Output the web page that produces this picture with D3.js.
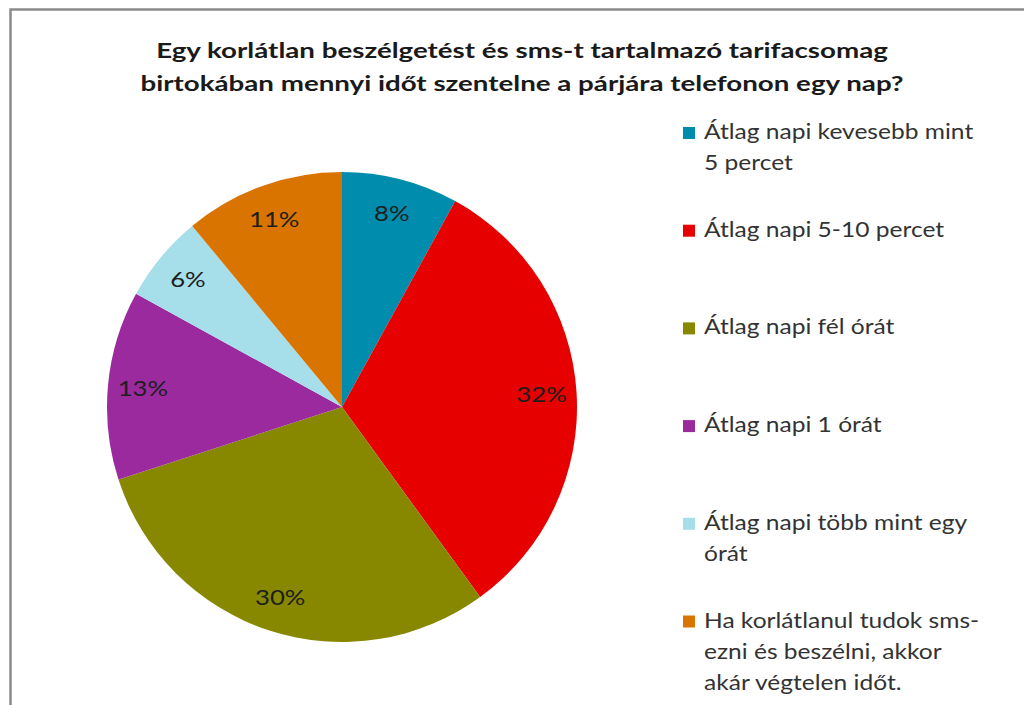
<!DOCTYPE html>
<html><head><meta charset="utf-8">
<script src="https://cdn.jsdelivr.net/npm/d3@7"></script>
<style>html,body{margin:0;padding:0;background:#fff;}svg{display:block;}</style>
</head><body>
<script>
const categories = [
  ["Átlag napi kevesebb mint", "5 percet"],
  ["Átlag napi 5-10 percet"],
  ["Átlag napi fél órát"],
  ["Átlag napi 1 órát"],
  ["Átlag napi több mint egy", "órát"],
  ["Ha korlátlanul tudok sms-", "ezni és beszélni, akkor", "akár végtelen időt."]
];
const values = [8, 32, 30, 13, 6, 11];
const colors = ["#008dad", "#e60000", "#878700", "#9a2a9e", "#a6dfe9", "#d97400"];
const titleLines = ["Egy korlátlan beszélgetést és sms-t tartalmazó tarifacsomag",
                    "birtokában mennyi időt szentelne a párjára telefonon egy nap?"];

const W = 1024, H = 705;
const svg = d3.select("body").append("svg").attr("width", W).attr("height", H);
svg.append("rect").attr("width", W).attr("height", H).attr("fill", "#fff");
// frame
svg.append("rect").attr("x", 10.5).attr("y", 9.5).attr("width", W + 20).attr("height", H + 20)
  .attr("fill", "none").attr("stroke", "#8a8a8a").attr("stroke-width", 2.5);

const font = "Lato, 'Open Sans', sans-serif";
svg.append("g").selectAll("text").data(titleLines).join("text")
  .attr("transform", (d, i) => `translate(522,${58 + i * 33}) scale(1.32,1)`)
  .attr("text-anchor", "middle").attr("font-family", font).attr("font-weight", "bold")
  .attr("font-size", 21).attr("fill", "#1a1a1a")
  .text(d => d);

const cx = 342, cy = 407, R = 235;
const pie = d3.pie().sort(null).value(d => d);
const arcs = pie(values);
const arc = d3.arc().innerRadius(0).outerRadius(R);
const labelArc = d3.arc().innerRadius(200).outerRadius(200);
const g = svg.append("g").attr("transform", `translate(${cx},${cy})`);
g.selectAll("path").data(arcs).join("path")
  .attr("d", arc).attr("fill", (d, i) => colors[i]);
g.selectAll("text").data(arcs).join("text")
  .attr("transform", d => `translate(${labelArc.centroid(d)}) scale(1.17,1)`)
  .attr("text-anchor", "middle").attr("dy", "0.36em")
  .attr("font-family", font).attr("font-size", 22).attr("fill", "#1e1e1e")
  .text(d => d.data + "%");

// legend
const lg = svg.append("g");
const items = lg.selectAll("g").data(categories).join("g")
  .attr("transform", (d, i) => `translate(683,${139 + i * 97.7})`);
items.append("rect").attr("x", 0).attr("y", -12).attr("width", 12).attr("height", 12)
  .attr("fill", (d, i) => colors[i]);
items.append("text").attr("transform", "translate(21,0) scale(1.17,1)")
  .attr("font-family", font).attr("font-size", 21).attr("fill", "#333")
  .selectAll("tspan").data(d => d).join("tspan")
  .attr("x", 0).attr("y", (d, i) => i * 31.5).text(d => d);
</script>
</body></html>
